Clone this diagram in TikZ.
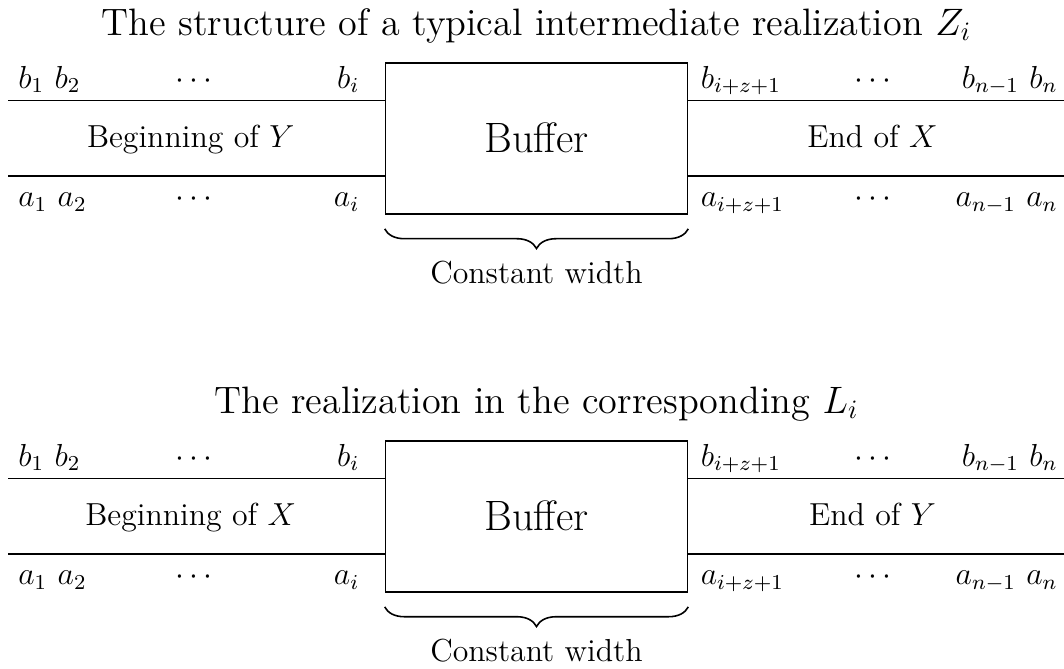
\documentclass[tikz,border=0pt]{standalone}
\usetikzlibrary{decorations.pathreplacing}
\tikzset{
  lbl/.style={inner sep=0pt, font=\large},
  bufbox/.style={draw, line width=0.6pt, minimum width=4cm, minimum height=2cm, inner sep=0pt, font=\fontsize{16}{19}\selectfont},
  track/.style={line width=0.6pt},
  ttl/.style={inner sep=0pt, font=\Large, anchor=base},
  brc/.style={decorate, decoration={brace, mirror, amplitude=0.26cm}, line width=0.6pt}
}
\newcommand{\seqgroup}[5]{%
\begin{scope}[yshift=#2cm]
  \node[ttl] (t#1) at (7,-0.464) {#3};
  \node[bufbox] (buf#1) at (7,-1.831) {Buffer};
  \coordinate (ut#1) at (0,-1.331);
  \coordinate (lt#1) at (0,-2.331);
  \coordinate (ur#1) at (14,-1.331);
  \coordinate (lr#1) at (14,-2.331);
  \draw[track] (ut#1) -- (ut#1 -| buf#1.west);
  \draw[track] (lt#1) -- (lt#1 -| buf#1.west);
  \draw[track] (buf#1.east |- ur#1) -- (ur#1);
  \draw[track] (buf#1.east |- lr#1) -- (lr#1);
  \node[lbl, anchor=base west] (bl#1) at (0.13,-1.166) {$b_1$ $b_2$};
  \node[lbl, anchor=base] (bd#1) at (2.46,-1.166) {$\cdots$};
  \node[lbl, anchor=base east] (bi#1) at (4.66,-1.166) {$b_i$};
  \node[lbl, anchor=base west] (bz#1) at (9.17,-1.166) {$b_{i+z+1}$};
  \node[lbl, anchor=base] (be#1) at (11.46,-1.166) {$\cdots$};
  \node[lbl, anchor=base east] (bn#1) at (13.91,-1.166) {$b_{n-1}$ $b_n$};
  \node[lbl, anchor=base west] (al#1) at (0.13,-2.737) {$a_1$ $a_2$};
  \node[lbl, anchor=base] (ad#1) at (2.46,-2.737) {$\cdots$};
  \node[lbl, anchor=base east] (ai#1) at (4.66,-2.737) {$a_i$};
  \node[lbl, anchor=base west] (az#1) at (9.17,-2.737) {$a_{i+z+1}$};
  \node[lbl, anchor=base] (ae#1) at (11.46,-2.737) {$\cdots$};
  \node[lbl, anchor=base east] (an#1) at (13.91,-2.737) {$a_{n-1}$ $a_n$};
  \node[lbl, anchor=base] (beg#1) at (2.42,-1.947) {Beginning of $#4$};
  \node[lbl, anchor=base] (end#1) at (11.45,-1.947) {End of $#5$};
  \draw[brc] ([yshift=-0.19cm]buf#1.south west) -- ([yshift=-0.19cm]buf#1.south east);
  \node[lbl, anchor=base] (cw#1) at (7,-3.76) {Constant width};
\end{scope}}
\begin{document}
\begin{tikzpicture}
\useasboundingbox (-0.106,0) rectangle (13.987,-8.861);
\seqgroup{A}{0}{The structure of a typical intermediate realization $Z_i$}{Y}{X}
\seqgroup{B}{-5.007}{The realization in the corresponding $L_i$}{X}{Y}
\end{tikzpicture}
\end{document}
